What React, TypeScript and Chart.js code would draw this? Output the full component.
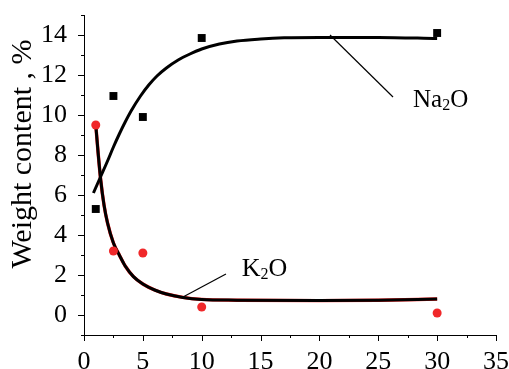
import React, { useEffect, useRef } from 'react';
import { Chart, registerables } from 'chart.js';
Chart.register(...registerables);

// Measured points
const naX = [1, 2.5, 5, 10, 30];
const naY = [5.3, 10.95, 9.9, 13.85, 14.1];
const kX = [1, 2.5, 5, 10, 30];
const kY = [9.5, 3.2, 3.1, 0.4, 0.1];

// Fitted curves
const naFitX = [0.8, 1.4, 2, 2.5, 3, 3.5, 4, 4.8, 5.5, 6.2, 7, 8, 9, 10, 11.5, 13, 15, 17, 20, 25, 30];
const naFitY = [6.1, 6.9, 7.7, 8.4, 9.05, 9.65, 10.2, 10.95, 11.5, 11.95, 12.35, 12.75, 13.05, 13.3, 13.55, 13.7, 13.8, 13.86, 13.88, 13.88, 13.82];
const kFitX = [1, 1.2, 1.42, 1.7, 2, 2.5, 3, 3.5, 4.2, 5, 6, 7, 8.4, 10, 13, 20, 25, 30];
const kFitY = [9.5, 8.1, 6.75, 5.5, 4.6, 3.6, 3.0, 2.45, 1.92, 1.55, 1.25, 1.05, 0.88, 0.78, 0.74, 0.72, 0.74, 0.8];

// Axes
const xTickLabels = [0, 5, 10, 15, 20, 25, 30, 35];
const xMinorTicks = [2.5, 7.5, 12.5, 17.5, 22.5, 27.5, 32.5];
const yTickLabels = [0, 2, 4, 6, 8, 10, 12, 14];
const yMinorTicks = [-1, 1, 3, 5, 7, 9, 11, 13, 15];

// Annotations: [lineFromX, lineFromY, lineToX, lineToY, textX, textY]
const naNote = [20.9, 14.0, 26.25, 10.9, 27.95, 10.4];
const kNote = [8.41, 0.9, 12.06, 2.05, 13.4, 1.95];

const FONT = "'Liberation Serif', 'Times New Roman', serif";

const toXY = (xs: number[], ys: number[]) => xs.map((x, i) => ({ x, y: ys[i] }));

function drawFormula(ctx: CanvasRenderingContext2D, x: number, y: number, a: string, sub: string, b: string, size: number) {
  ctx.font = `${size}px ${FONT}`;
  ctx.fillText(a, x, y);
  let w = ctx.measureText(a).width;
  ctx.font = `${Math.round(size * 0.62)}px ${FONT}`;
  ctx.fillText(sub, x + w, y + size * 0.12);
  w += ctx.measureText(sub).width;
  ctx.font = `${size}px ${FONT}`;
  ctx.fillText(b, x + w, y);
}

const decor = {
  id: 'decor',
  afterDraw(chart: any) {
    const { ctx, scales } = chart;
    const xs = scales.x;
    const ys = scales.y;
    ctx.save();
    ctx.strokeStyle = '#000';
    ctx.lineWidth = 1;
    const bottom = xs.top;
    const left = ys.right;
    ctx.beginPath();
    for (const v of xTickLabels) {
      const p = Math.round(xs.getPixelForValue(v)) + 0.5;
      ctx.moveTo(p, bottom); ctx.lineTo(p, bottom + 6);
    }
    for (const v of xMinorTicks) {
      const p = Math.round(xs.getPixelForValue(v)) + 0.5;
      ctx.moveTo(p, bottom); ctx.lineTo(p, bottom + 3);
    }
    for (const v of yTickLabels) {
      const p = Math.round(ys.getPixelForValue(v)) + 0.5;
      ctx.moveTo(left, p); ctx.lineTo(left - 6, p);
    }
    for (const v of yMinorTicks) {
      const p = Math.round(ys.getPixelForValue(v)) + 0.5;
      ctx.moveTo(left, p); ctx.lineTo(left - 3, p);
    }
    ctx.stroke();

    // leader lines
    ctx.lineWidth = 1.2;
    for (const n of [naNote, kNote]) {
      ctx.beginPath();
      ctx.moveTo(xs.getPixelForValue(n[0]), ys.getPixelForValue(n[1]));
      ctx.lineTo(xs.getPixelForValue(n[2]), ys.getPixelForValue(n[3]));
      ctx.stroke();
    }
    ctx.fillStyle = '#000';
    ctx.textBaseline = 'alphabetic';
    ctx.textAlign = 'left';
    drawFormula(ctx, xs.getPixelForValue(naNote[4]), ys.getPixelForValue(naNote[5]), 'Na', '2', 'O', 25);
    drawFormula(ctx, xs.getPixelForValue(kNote[4]), ys.getPixelForValue(kNote[5]), 'K', '2', 'O', 26);

    // y title
    ctx.save();
    ctx.translate(23, 154);
    ctx.rotate(-Math.PI / 2);
    ctx.textAlign = 'center';
    ctx.textBaseline = 'middle';
    ctx.font = `30px ${FONT}`;
    ctx.fillText('Weight content , %', 0, 0);
    ctx.restore();
    ctx.restore();
  },
};

export default function App() {
  const ref = useRef<HTMLCanvasElement>(null);
  useEffect(() => {
    document.body.style.margin = '0';
    const chart = new Chart(ref.current!, {
      type: 'scatter',
      data: {
        datasets: [
          {
            label: 'Na2O',
            data: toXY(naX, naY),
            pointStyle: 'rect',
            pointRadius: 5.6,
            backgroundColor: '#000',
            borderColor: '#000',
            borderWidth: 0,
          },
          {
            label: 'K2O',
            data: toXY(kX, kY),
            pointStyle: 'circle',
            pointRadius: 4.5,
            backgroundColor: '#f0282a',
            borderColor: '#f0282a',
            borderWidth: 0,
          },
          {
            label: 'Na2O fit',
            data: toXY(naFitX, naFitY),
            showLine: true,
            pointRadius: 0,
            borderColor: '#000',
            borderWidth: 3,
            cubicInterpolationMode: 'monotone',
          },
          {
            label: 'K2O fit',
            data: toXY(kFitX, kFitY),
            showLine: true,
            pointRadius: 0,
            borderColor: '#000',
            borderWidth: 3,
            cubicInterpolationMode: 'monotone',
          },
          {
            label: 'K2O fit red',
            data: toXY(kFitX, kFitY),
            showLine: true,
            pointRadius: 0,
            borderColor: '#ff2020',
            borderWidth: 3.4,
            cubicInterpolationMode: 'monotone',
          },
        ],
      },
      options: {
        animation: false,
        responsive: false,
        layout: { padding: { top: 15, right: 13, left: 0, bottom: 0 } },
        plugins: { legend: { display: false }, tooltip: { enabled: false } },
        scales: {
          x: {
            type: 'linear',
            min: 0,
            max: 35,
            grid: { display: false },
            border: { display: true, color: '#000', width: 1 },
            afterBuildTicks: (s: any) => { s.ticks = xTickLabels.map((v) => ({ value: v })); },
            afterFit: (s: any) => { s.height = 34; s.paddingLeft = 0; s.paddingRight = 0; },
            ticks: {
              color: '#000',
              font: { family: FONT, size: 26 },
              padding: 4,
              maxRotation: 0,
              autoSkip: false,
            },
          },
          y: {
            type: 'linear',
            min: -1,
            max: 15,
            grid: { display: false },
            border: { display: true, color: '#000', width: 1 },
            afterBuildTicks: (s: any) => { s.ticks = yTickLabels.map((v) => ({ value: v })); },
            afterFit: (s: any) => { s.width = 84; s.paddingTop = 0; s.paddingBottom = 0; },
            ticks: {
              color: '#000',
              font: { family: FONT, size: 26 },
              padding: 9,
              autoSkip: false,
            },
          },
        },
      },
      plugins: [decor],
    });
    return () => chart.destroy();
  }, []);
  return <canvas ref={ref} width={509} height={369} style={{ display: 'block', width: 509, height: 369 }} />;
}
